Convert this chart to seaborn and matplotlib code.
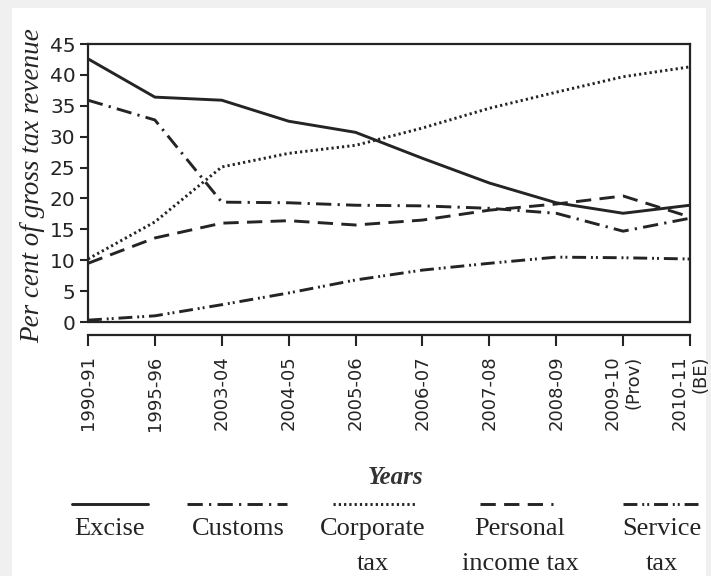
import matplotlib
matplotlib.use("Agg")
import matplotlib.pyplot as plt
import pandas as pd
import seaborn as sns
from matplotlib.lines import Line2D
from matplotlib.patches import Rectangle

# Share of each tax in gross tax revenue (per cent)
years = ["1990-91", "1995-96", "2003-04", "2004-05", "2005-06", "2006-07",
         "2007-08", "2008-09", "2009-10\n(Prov)", "2010-11\n(BE)"]
excise = [42.6, 36.4, 35.9, 32.5, 30.7, 26.5, 22.5, 19.3, 17.6, 18.9]
customs = [35.9, 32.7, 19.4, 19.3, 18.9, 18.8, 18.4, 17.6, 14.7, 16.8]
corporate = [10.2, 16.2, 25.1, 27.3, 28.6, 31.4, 34.6, 37.2, 39.7, 41.3]
personal = [9.5, 13.6, 16.0, 16.4, 15.7, 16.5, 18.1, 19.1, 20.4, 17.0]
service = [0.3, 1.0, 2.8, 4.7, 6.8, 8.4, 9.5, 10.5, 10.4, 10.2]
tax_names = ["Excise", "Customs", "Corporate\ntax", "Personal\nincome tax", "Service\ntax"]
y_ticks = [0, 5, 10, 15, 20, 25, 30, 35, 40, 45]

series = [excise, customs, corporate, personal, service]
df = pd.DataFrame({
    "Year": years * len(tax_names),
    "Share": [v for s in series for v in s],
    "Tax": [name for name in tax_names for _ in years],
})

# dash patterns in points (not scaled by line width)
dash_map = {
    "Excise": "",
    "Customs": (11, 4.5, 1.6, 4.5),
    "Corporate\ntax": (1.6, 2.2),
    "Personal\nincome tax": (11, 6),
    "Service\ntax": (10, 3.5, 1.4, 2.2, 1.4, 3.5),
}

sns.set_theme(style="white")
plt.rcParams["lines.scale_dashes"] = False
plt.rcParams["font.family"] = ["DejaVu Sans"]

ink = "#242424"
W, H = 711, 576
fig = plt.figure(figsize=(W / 100, H / 100), dpi=100, facecolor="#f0f0f0")
fig.patches.append(Rectangle((12 / W, 0), (706 - 12) / W, (H - 8) / H,
                             transform=fig.transFigure, facecolor="white",
                             edgecolor="none", zorder=-10))

ax = fig.add_axes([88 / W, 1 - 322 / H, 602 / W, 278 / H])
ax.set_facecolor("white")

sns.lineplot(data=df, x="Year", y="Share", style="Tax", dashes=dash_map,
             color=ink, linewidth=2.1, legend=False, sort=False, ax=ax)

ax.set_xlim(0, len(years) - 1)
ax.set_ylim(0, 45)
ax.set_yticks(y_ticks)
ax.set_yticklabels([str(t) for t in y_ticks])
ax.set_xticks(range(len(years)))
ax.set_xticklabels(years)

for side, sp in ax.spines.items():
    sp.set_visible(True)
    sp.set_color(ink)
    sp.set_linewidth(1.6)
ax.spines["bottom"].set_position(("outward", 9))
# closing line of the frame at zero
ax.axhline(0, color=ink, linewidth=1.6, clip_on=False, zorder=3)

ax.tick_params(axis="y", direction="out", length=6, width=1.5, pad=3,
               labelsize=14.5, colors=ink, left=True)
ax.tick_params(axis="x", direction="out", length=8, width=1.5, pad=7,
               labelsize=13, colors=ink, bottom=True, labelrotation=90)
for t in ax.get_xticklabels():
    t.set_multialignment("right")

ax.set_ylabel("Per cent of gross tax revenue", fontsize=19.5, style="italic",
              family=["Liberation Serif"], color=ink)
ax.yaxis.set_label_coords((33 - 88) / 602, (322 - 186) / 278)
ax.yaxis.label.set_va("center")

ax.set_xlabel("Years", fontsize=18, style="italic", weight="bold",
              family=["Liberation Serif"], color="#333333")
ax.xaxis.set_label_coords((396 - 88) / 602, (322 - 477) / 278)
ax.xaxis.label.set_va("center")

# legend: sample line above each label
legend_pos = {
    "Excise": (72, 148, 110),
    "Customs": (187, 287, 238),
    "Corporate\ntax": (333, 415, 373),
    "Personal\nincome tax": (480, 553, 520),
    "Service\ntax": (623, 702, 662),
}
for name in tax_names:
    x0, x1, cx = legend_pos[name]
    ln = Line2D([x0 / W, x1 / W], [1 - 504 / H] * 2, transform=fig.transFigure,
                color=ink, linewidth=2.1)
    if dash_map[name]:
        ln.set_dashes(dash_map[name])
    fig.add_artist(ln)
    fig.text(cx / W, 1 - 518 / H, name, ha="center", va="top",
             multialignment="center", fontsize=19, linespacing=1.78,
             family=["Liberation Serif"], color=ink)

fig.savefig("out.png", dpi=100, facecolor=fig.get_facecolor())
